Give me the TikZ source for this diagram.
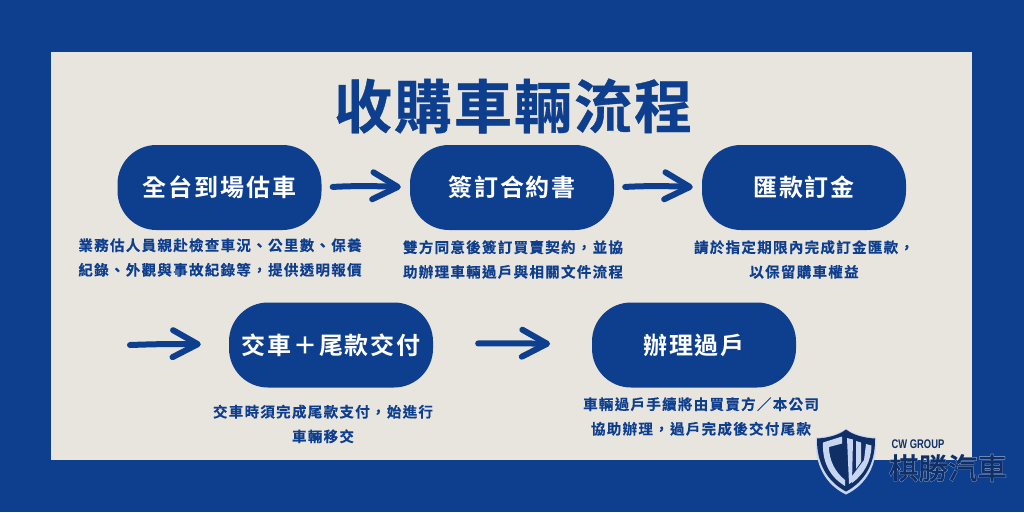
\documentclass[tikz,border=0pt]{standalone}
\usepackage{fontspec}
\usetikzlibrary{arrows.meta,bending}
\setmainfont{Noto Sans CJK TC}
\newfontfamily\titlefont[LetterSpace=3.5,FakeBold=0.6]{Noto Sans CJK TC Bold}
\newfontfamily\pillfont[LetterSpace=8]{Noto Sans CJK TC Bold}
\newfontfamily\descfont[LetterSpace=9,FakeBold=0.25]{Noto Sans CJK TC Bold}
\newfontfamily\brandfont[FakeBold=0.6]{Noto Sans CJK TC Medium}
\newfontfamily\brandglow[FakeBold=2.4]{Noto Sans CJK TC Medium}
\newfontfamily\cwfont[FakeStretch=0.75]{Liberation Sans}
\definecolor{bgblue}{HTML}{0E3E8E}
\definecolor{panel}{HTML}{E8E5DF}
\definecolor{navy}{HTML}{0F2F66}
\definecolor{pale}{HTML}{C6D5F0}
\tikzset{
  pill/.style={draw=none,fill=bgblue,rounded corners=39pt,minimum width=204pt,minimum height=85pt,text=white,inner sep=0pt,font=\pillfont\fontsize{24}{28}\selectfont},
  desc/.style={text=bgblue,align=center,inner sep=0pt,font=\descfont\fontsize{14.5}{24.6}\selectfont},
  flow/.style={draw=bgblue,line width=6pt,line cap=round,line join=round,-{Straight Barb[length=25pt,width=27pt,line width=6pt,round,flex=1]}}
}
\begin{document}
\begin{tikzpicture}[x=1pt,y=-1pt]
\path[use as bounding box,fill=bgblue] (0,0) rectangle (1024,512);
\fill[panel] (51,52) rectangle (972,460);
\node[text=bgblue,inner sep=0pt,font=\titlefont\fontsize{58}{64}\selectfont] (title) at (513,106) {收購車輛流程};
\node[pill] (p1) at (219.5,187.5) {全台到場估車};
\node[pill] (p2) at (512,187.5) {簽訂合約書};
\node[pill] (p3) at (804,187.5) {匯款訂金};
\node[pill] (p4) at (331,345) {交車＋尾款交付};
\node[pill] (p5) at (694,345) {辦理過戶};
\node[desc] (d1) at (220,257.5) {業務估人員親赴檢查車況、公里數、保養\\紀錄、外觀與事故紀錄等，提供透明報價};
\node[desc] (d2) at (513,259.5) {雙方同意後簽訂買賣契約，並協\\助辦理車輛過戶與相關文件流程};
\node[desc] (d3) at (804,259.5) {請於指定期限內完成訂金匯款，\\以保留購車權益};
\node[desc] (d4) at (323,424) {交車時須完成尾款支付，始進行\\車輛移交};
\node[desc] (d5) at (701,416.5) {車輛過戶手續將由買賣方／本公司\\協助辦理，過戶完成後交付尾款};
\coordinate (start4) at (130,345);
\draw[flow,shorten <=11pt,shorten >=9pt] (p1.east) to[bend left=3] (p2.west);
\draw[flow,shorten <=11pt,shorten >=9pt] (p2.east) to[bend left=3] (p3.west);
\draw[flow,shorten >=30pt] (start4) to[bend left=2] (p4.west);
\draw[flow,shorten <=45pt,shorten >=45pt] (p4.east) to[bend left=2] (p5.west);
% logo shield
\path[fill=pale] (846,428.5) .. controls (853,434) and (864,437) .. (876,437.5) .. controls (878,465) and (866,485) .. (846,494.5) .. controls (826,485) and (814,465) .. (816,437.5) .. controls (828,437) and (839,434) .. (846,428.5) -- cycle;
\path[fill=navy] (846,429.5) .. controls (853,435) and (864,438) .. (875,438.5) .. controls (875.5,464) and (864,482) .. (846,491.5) .. controls (828,482) and (816.5,464) .. (817,438.5) .. controls (828,438) and (839,435) .. (846,429.5) -- cycle;
\path[fill=pale] (842,436.5) -- (823,442.5) .. controls (822,462) and (830,477) .. (845,486) -- (845,480) .. controls (835,472) and (829,460) .. (829,447) -- (842,443.5) -- cycle;
\path[fill=pale] (847,438) -- (853,439.5) -- (852,482) -- (849,484) -- cycle;
\path[fill=pale] (856,441) -- (861,442.5) -- (861,462) -- (856,469) -- cycle;
\path[fill=pale] (866,444) -- (871.5,445.5) .. controls (871,462) and (864,474) .. (852,483) -- (852,476) -- (864,460) -- cycle;
\node[text=navy,inner sep=0pt,font=\cwfont\bfseries\fontsize{12.5}{14}\selectfont] (cw) at (918,444.5) {CW GROUP};
\node[text=pale,inner sep=0pt,font=\brandglow\fontsize{29.5}{32}\selectfont] (brandg) at (948,468) {棋勝汽車};
\node[text=navy,inner sep=0pt,font=\brandfont\fontsize{29.5}{32}\selectfont] (brand) at (948,468) {棋勝汽車};
\end{tikzpicture}
\end{document}
